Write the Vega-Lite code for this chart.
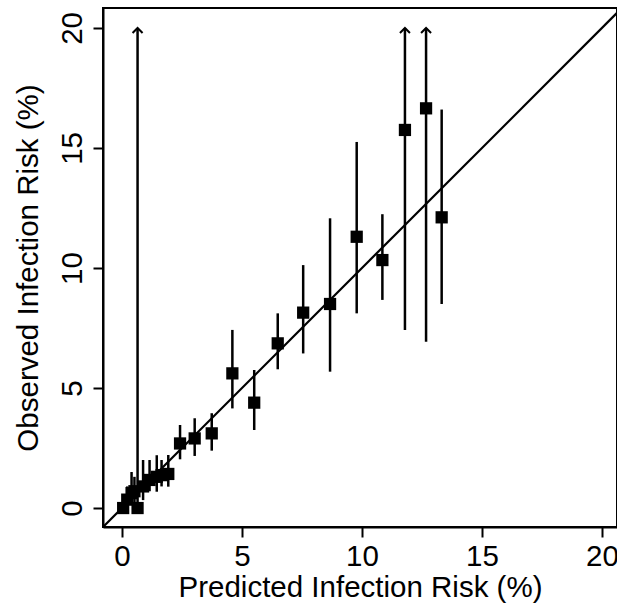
{
  "$schema": "https://vega.github.io/schema/vega-lite/v6.json",
  "width": 514,
  "height": 519,
  "autosize": {"type": "none"},
  "padding": {"left": 103, "top": 8, "right": 0, "bottom": 82},
  "background": "white",
  "config": {
    "font": "Liberation Sans",
    "view": {"stroke": "black", "strokeWidth": 2},
    "axis": {
      "grid": false,
      "domainColor": "black",
      "domainWidth": 2,
      "tickColor": "black",
      "tickWidth": 2,
      "tickSize": 10,
      "labelFont": "Liberation Sans",
      "labelFontSize": 29.5,
      "labelColor": "black",
      "titleFont": "Liberation Sans",
      "titleFontSize": 29.5,
      "titleFontWeight": "normal",
      "titleColor": "black"
    },
    "axisX": {"labelPadding": 5, "titlePadding": 3},
    "axisY": {"labelAngle": 270, "labelPadding": 6, "titlePadding": 14}
  },
  "datasets": {
    "pts": [
      {"x": 0.05, "y": 0.0, "lo": 0.0, "hi": 0.3, "arrow": false},
      {"x": 0.22, "y": 0.35, "lo": 0.05, "hi": 0.9, "arrow": false},
      {"x": 0.4, "y": 0.62, "lo": 0.2, "hi": 1.5, "arrow": false},
      {"x": 0.52, "y": 0.7, "lo": 0.25, "hi": 1.3, "arrow": false},
      {"x": 0.65, "y": 0.0, "lo": 0.0, "hi": 20, "arrow": true},
      {"x": 0.88, "y": 0.9, "lo": 0.33, "hi": 2.0, "arrow": false},
      {"x": 1.15, "y": 1.17, "lo": 0.7, "hi": 2.0, "arrow": false},
      {"x": 1.45, "y": 1.3, "lo": 0.68, "hi": 2.2, "arrow": false},
      {"x": 1.65, "y": 1.37, "lo": 0.9, "hi": 2.0, "arrow": false},
      {"x": 1.93, "y": 1.42, "lo": 0.89, "hi": 2.21, "arrow": false},
      {"x": 2.42, "y": 2.69, "lo": 2.03, "hi": 3.46, "arrow": false},
      {"x": 3.03, "y": 2.9, "lo": 2.17, "hi": 3.74, "arrow": false},
      {"x": 3.74, "y": 3.11, "lo": 2.39, "hi": 3.95, "arrow": false},
      {"x": 4.6, "y": 5.61, "lo": 4.15, "hi": 7.42, "arrow": false},
      {"x": 5.51, "y": 4.39, "lo": 3.25, "hi": 5.75, "arrow": false},
      {"x": 6.49, "y": 6.86, "lo": 5.78, "hi": 8.11, "arrow": false},
      {"x": 7.55, "y": 8.14, "lo": 6.44, "hi": 10.12, "arrow": false},
      {"x": 8.67, "y": 8.5, "lo": 5.68, "hi": 12.07, "arrow": false},
      {"x": 9.78, "y": 11.3, "lo": 8.11, "hi": 15.25, "arrow": false},
      {"x": 10.85, "y": 10.33, "lo": 8.67, "hi": 12.24, "arrow": false},
      {"x": 11.79, "y": 15.75, "lo": 7.42, "hi": 20, "arrow": true},
      {"x": 12.67, "y": 16.65, "lo": 6.93, "hi": 20, "arrow": true},
      {"x": 13.32, "y": 12.11, "lo": 8.5, "hi": 16.6, "arrow": false}
    ],
    "diag": [{"v": -0.79}, {"v": 21}]
  },
  "layer": [
    {
      "data": {"name": "diag"},
      "mark": {"type": "line", "color": "black", "strokeWidth": 2.2, "clip": true},
      "encoding": {
        "x": {"field": "v", "type": "quantitative", "scale": {"domain": [-0.79, 20.625], "nice": false, "zero": false}, "title": "Predicted Infection Risk (%)", "axis": {"values": [0, 5, 10, 15, 20]}},
        "y": {"field": "v", "type": "quantitative", "scale": {"domain": [-0.79, 20.83], "nice": false, "zero": false}, "title": "Observed Infection Risk (%)", "axis": {"values": [0, 5, 10, 15, 20]}}
      }
    },
    {
      "data": {"name": "pts"},
      "mark": {"type": "rule", "color": "black", "strokeWidth": 2.5},
      "encoding": {
        "x": {"field": "x", "type": "quantitative", "title": "Predicted Infection Risk (%)", "axis": {"values": [0, 5, 10, 15, 20]}},
        "y": {"field": "lo", "type": "quantitative", "title": "Observed Infection Risk (%)", "axis": {"values": [0, 5, 10, 15, 20]}},
        "y2": {"field": "hi"}
      }
    },
    {
      "data": {"name": "pts"},
      "transform": [{"filter": "datum.arrow"}],
      "mark": {"type": "point", "shape": "M-1,1L0,0L1,1", "filled": false, "stroke": "black", "strokeWidth": 2, "size": 100, "opacity": 1},
      "encoding": {
        "x": {"field": "x", "type": "quantitative", "title": "Predicted Infection Risk (%)", "axis": {"values": [0, 5, 10, 15, 20]}},
        "y": {"field": "hi", "type": "quantitative", "title": "Observed Infection Risk (%)", "axis": {"values": [0, 5, 10, 15, 20]}}
      }
    },
    {
      "data": {"name": "pts"},
      "mark": {"type": "square", "size": 150, "color": "black", "opacity": 1},
      "encoding": {
        "x": {"field": "x", "type": "quantitative", "title": "Predicted Infection Risk (%)", "axis": {"values": [0, 5, 10, 15, 20]}},
        "y": {"field": "y", "type": "quantitative", "title": "Observed Infection Risk (%)", "axis": {"values": [0, 5, 10, 15, 20]}}
      }
    }
  ]
}
